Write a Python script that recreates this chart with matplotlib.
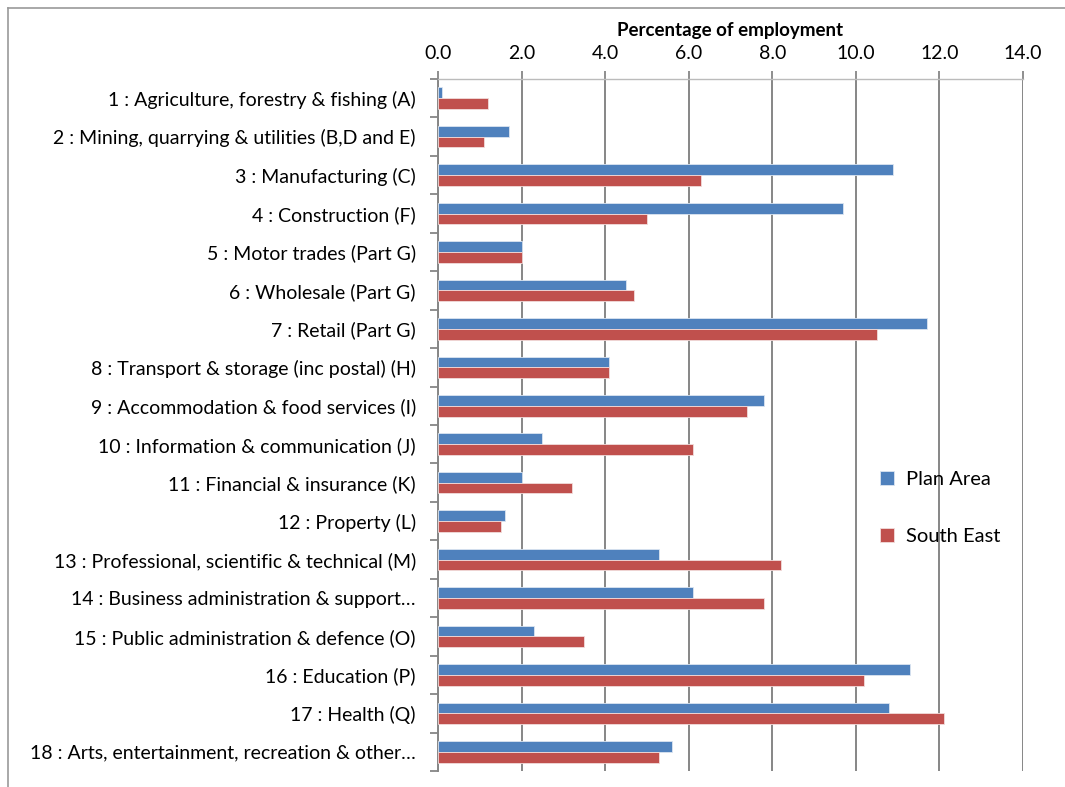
import matplotlib.pyplot as plt
import numpy as np
from matplotlib.lines import Line2D

sectors = [
    '1 : Agriculture, forestry & fishing (A)',
    '2 : Mining, quarrying & utilities (B,D and E)',
    '3 : Manufacturing (C)',
    '4 : Construction (F)',
    '5 : Motor trades (Part G)',
    '6 : Wholesale (Part G)',
    '7 : Retail (Part G)',
    '8 : Transport & storage (inc postal) (H)',
    '9 : Accommodation & food services (I)',
    '10 : Information & communication (J)',
    '11 : Financial & insurance (K)',
    '12 : Property (L)',
    '13 : Professional, scientific & technical (M)',
    '14 : Business administration & support\u2026',
    '15 : Public administration & defence (O)',
    '16 : Education (P)',
    '17 : Health (Q)',
    '18 : Arts, entertainment, recreation & other\u2026',
]
plan_area = [0.1, 1.7, 10.9, 9.7, 2.0, 4.5, 11.7, 4.1, 7.8, 2.5,
             2.0, 1.6, 5.3, 6.1, 2.3, 11.3, 10.8, 5.6]
south_east = [1.2, 1.1, 6.3, 5.0, 2.0, 4.7, 10.5, 4.1, 7.4, 6.1,
              3.2, 1.5, 8.2, 7.8, 3.5, 10.2, 12.1, 5.3]
x_ticks = [0, 2, 4, 6, 8, 10, 12, 14]

BLUE = '#4F81BD'
RED = '#C0504D'
GRID = '#868686'

plt.rcParams['font.family'] = ['Lato', 'DejaVu Sans']

fig = plt.figure(figsize=(10.65, 7.87), dpi=100)
W, H = 1065, 787
ax = fig.add_axes([438 / W, 1 - 771 / H, (1023 - 438) / W, (771 - 79) / H])

n = len(sectors)
y = np.arange(n)
bh = 0.28
ax.barh(y - bh / 2, plan_area, height=bh, color=BLUE, edgecolor='#dbe5f1',
        linewidth=0.6, label='Plan Area', zorder=3)
ax.barh(y + bh / 2, south_east, height=bh, color=RED, edgecolor='#f2dcdb',
        linewidth=0.6, label='South East', zorder=3)

ax.set_ylim(n - 0.5, -0.5)
ax.set_xlim(0, 14)

# x axis along the top
ax.xaxis.tick_top()
ax.xaxis.set_label_position('top')
ax.set_xticks(x_ticks)
ax.set_xticklabels([f'{v:.1f}' for v in x_ticks], fontsize=14)
ax.tick_params(axis='x', length=6, width=1.3, color=GRID, pad=6)
ax.set_xlabel('Percentage of employment', fontsize=13.5, fontweight='bold',
              labelpad=7)
ax.xaxis.grid(True, color=GRID, linewidth=1.4, zorder=0)

# category labels, ticks between groups
ax.set_yticks(y)
ax.set_yticklabels(sectors, fontsize=14)
ax.set_yticks(np.arange(n + 1) - 0.5, minor=True)
ax.tick_params(axis='y', which='major', length=0, pad=16)
ax.tick_params(axis='y', which='minor', length=6, width=1.3, color=GRID)

for side in ['right', 'bottom']:
    ax.spines[side].set_visible(False)
ax.spines['left'].set_color(GRID)
ax.spines['left'].set_linewidth(1.4)
ax.spines['top'].set_color('#bbbbbb')
ax.spines['top'].set_linewidth(1.0)

leg = ax.legend(loc='center left', bbox_to_anchor=(0.725, 0.38), frameon=False,
                fontsize=14.5, handlelength=0.7, handleheight=0.7,
                labelspacing=2.0, handletextpad=0.6)

# outer chart border (top and left edges visible)
fig.add_artist(Line2D([8 / W, 1], [1 - 8 / H, 1 - 8 / H], color='#999999',
                      linewidth=1.2, transform=fig.transFigure))
fig.add_artist(Line2D([8 / W, 8 / W], [0, 1 - 8 / H], color='#999999',
                      linewidth=1.2, transform=fig.transFigure))

fig.savefig('out.png', dpi=100)
